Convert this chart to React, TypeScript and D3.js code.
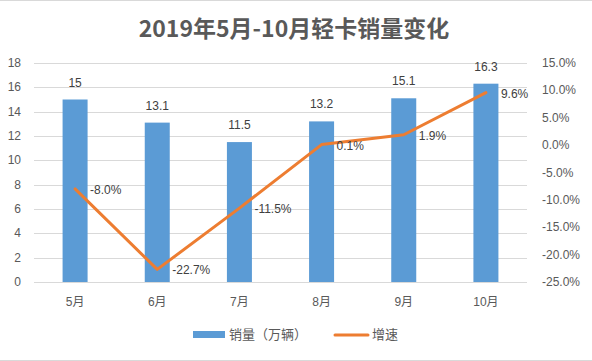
import React from "react";
import * as d3 from "d3";

const title = "2019年5月-10月轻卡销量变化";
const months = ["5月", "6月", "7月", "8月", "9月", "10月"];
const sales = [15, 13.1, 11.5, 13.2, 15.1, 16.3];
const growth = [-8.0, -22.7, -11.5, 0.1, 1.9, 9.6];
const leftTicks = [0, 2, 4, 6, 8, 10, 12, 14, 16, 18];
const rightTicks = [-25, -20, -15, -10, -5, 0, 5, 10, 15];
const legendBar = "销量（万辆）";
const legendLine = "增速";

const W = 592, H = 361;
const font = "'Liberation Sans', 'Noto Sans CJK SC', sans-serif";

export default function App() {
  const xc = d3.scaleBand().domain(months).range([34, 527]);
  const yL = d3.scaleLinear().domain([0, 18]).range([282, 63]);
  const yR = d3.scaleLinear().domain([-25, 15]).range([282, 63]);
  const line = d3.line<number>().x((_, i) => xc(months[i])! + xc.bandwidth() / 2).y((d) => yR(d));
  const bw = 25;
  return (
    <div style={{ position: "absolute", left: 0, top: 0 }}>
      <svg width={W} height={H} style={{ display: "block", fontFamily: font }}>
        <rect width={W} height={H} fill="#fff" />
        <line x1={0} x2={W} y1={0.5} y2={0.5} stroke="#d9d9d9" />
        <line x1={0} x2={W} y1={360.5} y2={360.5} stroke="#d9d9d9" />
        <text x={294} y={37} textAnchor="middle" fontSize={23} fontWeight="bold" fill="#595959"
          fontFamily="'Noto Sans CJK SC', sans-serif">{title}</text>
        {leftTicks.map((t) => (
          <g key={t}>
            <line x1={34} x2={527} y1={Math.round(yL(t)) + 0.5} y2={Math.round(yL(t)) + 0.5} stroke="#d9d9d9" />
            <text x={21} y={yL(t) + 4} textAnchor="end" fontSize={12} fill="#595959">{t}</text>
          </g>
        ))}
        {rightTicks.map((t) => (
          <text key={t} x={542} y={yR(t) + 4} fontSize={12} fill="#595959">{t.toFixed(1) + "%"}</text>
        ))}
        {months.map((m, i) => {
          const cx = xc(m)! + xc.bandwidth() / 2;
          return (
            <g key={m}>
              <rect x={cx - bw / 2} y={yL(sales[i])} width={bw} height={yL(0) - yL(sales[i])} fill="#5B9BD5" />
              <text x={cx} y={yL(sales[i]) - 13} textAnchor="middle" fontSize={12} fill="#404040">{sales[i]}</text>
              <text x={cx} y={306} textAnchor="middle" fontSize={12} fill="#595959">{m}</text>
            </g>
          );
        })}
        <path d={line(growth)!} fill="none" stroke="#ED7D31" strokeWidth={3} strokeLinejoin="round" strokeLinecap="round" />
        {growth.map((g, i) => {
          const cx = xc(months[i])! + xc.bandwidth() / 2;
          return (
            <text key={i} x={cx + 15} y={yR(g) + 5} fontSize={12} fill="#404040">{g.toFixed(1) + "%"}</text>
          );
        })}
        <rect x={193} y={331} width={32} height={7} fill="#5B9BD5" />
        <text x={229} y={339} fontSize={13} fill="#595959" fontFamily="'Noto Sans CJK SC', sans-serif">{legendBar}</text>
        <line x1={335} x2={368} y1={335} y2={335} stroke="#ED7D31" strokeWidth={3} strokeLinecap="round" />
        <text x={372} y={339} fontSize={13} fill="#595959" fontFamily="'Noto Sans CJK SC', sans-serif">{legendLine}</text>
      </svg>
    </div>
  );
}
